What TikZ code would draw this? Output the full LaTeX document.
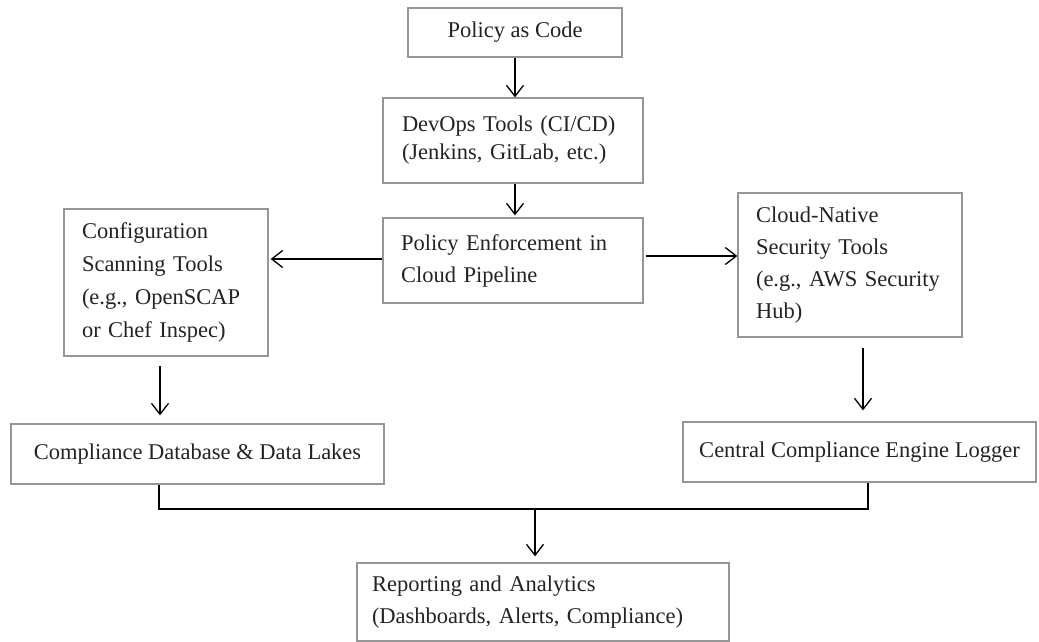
\documentclass[tikz,border=0pt]{standalone}
\usepackage{fontspec}
\setmainfont{Liberation Serif}
\usetikzlibrary{arrows.meta,calc}
\definecolor{boxgray}{RGB}{150,150,150}
\definecolor{txt}{RGB}{35,35,35}
\tikzset{
  box/.style={draw=boxgray, line width=1.3pt, rectangle, inner sep=0pt, text=txt,
    font=\fontsize{22.5}{32}\selectfont},
  lbox/.style={box, align=left},
  arr/.style={draw=black, line width=1.3pt, -{Straight Barb[length=11pt,width=17pt,line width=1.3pt]}},
  ln/.style={draw=black, line width=1.3pt}
}
\begin{document}
\begin{tikzpicture}[x=1pt,y=-1pt]
\useasboundingbox (0,0) rectangle (1039,641);
% boxes
\node[box, minimum width=214pt, minimum height=49pt] (pac) at (515,32.5) {Policy as Code};
\node[lbox, minimum width=260pt, minimum height=85pt, text width=222pt, font=\fontsize{22.5}{28}\selectfont] (devops) at (513,140.5) {DevOps Tools (CI/CD)\\(Jenkins, GitLab, etc.)};
\node[lbox, minimum width=260pt, minimum height=85pt, text width=224pt] (pe) at (513,260.5) {Policy Enforcement in\\Cloud Pipeline};
\node[lbox, minimum width=204pt, minimum height=147pt, text width=168pt, font=\fontsize{22.5}{33}\selectfont] (config) at (166,282.5) {Configuration\\Scanning Tools\\(e.g., OpenSCAP\\or Chef Inspec)};
\node[lbox, minimum width=224pt, minimum height=144pt, text width=188pt] (cloud) at (850,265) {Cloud-Native\\Security Tools\\(e.g., AWS Security\\Hub)};
\node[box, minimum width=373pt, minimum height=60pt] (cdb) at (197.5,454) {Compliance Database \& Data Lakes};
\node[box, minimum width=353pt, minimum height=60pt] (logger) at (859.5,452) {Central Compliance Engine Logger};
\node[lbox, minimum width=372pt, minimum height=78pt, text width=342pt] (report) at (543,602) {Reporting and Analytics\\(Dashboards, Alerts, Compliance)};
% helper coordinates
\coordinate (xa) at (515,0);
\coordinate (xl) at (160,0);
\coordinate (xr) at (863,0);
\coordinate (yl) at (0,259);
\coordinate (yr) at (0,256);
\coordinate (bl) at (159,0);
\coordinate (br) at (868,0);
\coordinate (J) at (535,509);
% connectors
\draw[arr] (pac.south -| xa) -- (devops.north -| xa);
\draw[arr, shorten >=2pt] (devops.south -| xa) -- (pe.north -| xa);
\draw[arr, shorten >=2pt] (pe.west |- yl) -- (config.east |- yl);
\draw[arr, shorten <=2pt] (pe.east |- yr) -- (cloud.west |- yr);
\draw[arr, shorten <=9pt, shorten >=8pt] (config.south -| xl) -- (cdb.north -| xl);
\draw[arr, shorten <=10pt, shorten >=11pt] (cloud.south -| xr) -- (logger.north -| xr);
\draw[ln] (cdb.south -| bl) |- (J) -| (logger.south -| br);
\draw[arr, shorten >=6pt] (J) -- (report.north -| J);
\end{tikzpicture}
\end{document}
